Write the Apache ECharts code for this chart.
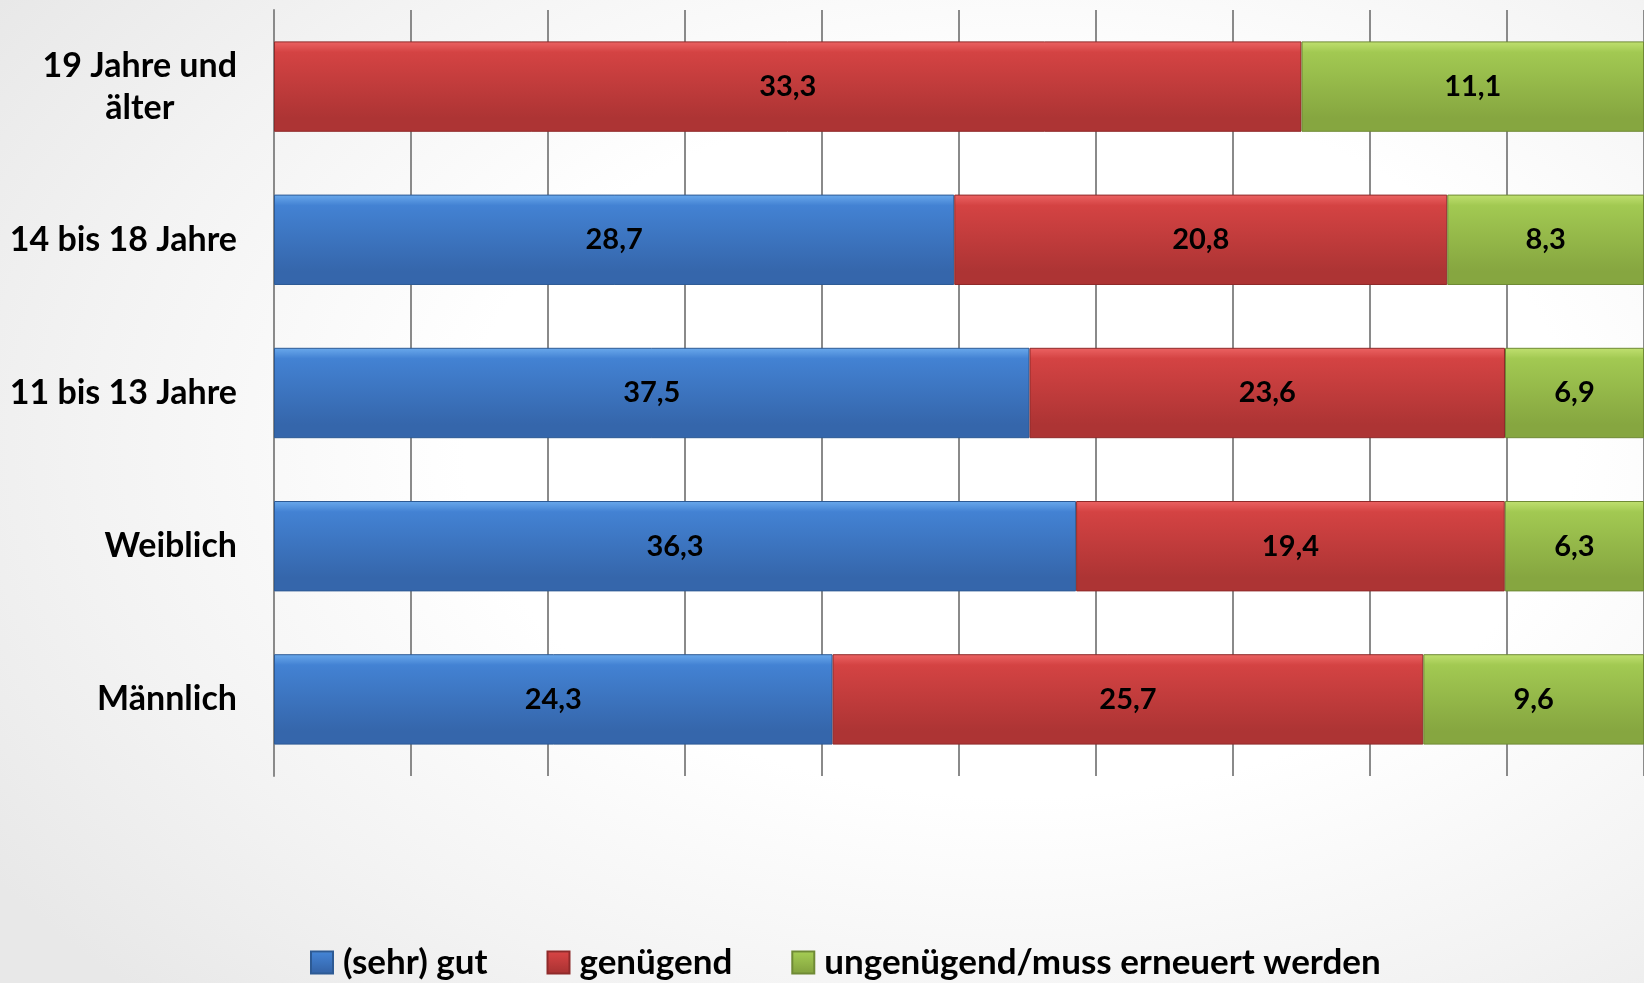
<!DOCTYPE html>
<html><head><meta charset="utf-8">
<script src="https://cdn.jsdelivr.net/npm/echarts@6/dist/echarts.min.js"></script>
<style>
html,body{margin:0;padding:0;}
#c{width:1644px;height:983px;background:radial-gradient(ellipse 75% 80% at 62% 45%, #ffffff 45%, #f3f3f3 75%, #e8e8e8 100%);}
</style></head>
<body><div id="c"></div>
<script>
const categories = ['Männlich', 'Weiblich', '11 bis 13 Jahre', '14 bis 18 Jahre', '19 Jahre und\nälter'];
const seriesNames = ['(sehr) gut', 'genügend', 'ungenügend/muss erneuert werden'];
const sehrGut = [24.3, 36.3, 37.5, 28.7, null];
const genuegend = [25.7, 19.4, 23.6, 20.8, 33.3];
const ungenuegend = [9.6, 6.3, 6.9, 8.3, 11.1];

const raw = [sehrGut, genuegend, ungenuegend];
const totals = categories.map((c, i) => raw.reduce((s, arr) => s + (arr[i] || 0), 0));
const pct = raw.map(arr => arr.map((v, i) => v == null ? null : v / totals[i] * 100));

function grad(top, mid, bot) {
  return new echarts.graphic.LinearGradient(0, 0, 0, 1, [
    {offset: 0, color: top}, {offset: 0.12, color: mid}, {offset: 0.85, color: bot}, {offset: 1, color: bot}
  ]);
}
const colors = [
  grad('#6aa9ec', '#4382d3', '#3566ab'),
  grad('#ec6363', '#d44343', '#ad3434'),
  grad('#c0e070', '#a2c952', '#86a640')
];
const borders = ['#2d5a94', '#8f2a2a', '#6f8a35'];

const FONT = 'Lato';
const chart = echarts.init(document.getElementById('c'), null, {renderer: 'canvas'});
chart.setOption({
  backgroundColor: 'transparent',
  animation: false,
  grid: {left: 274, right: -3, top: 10, bottom: 207, containLabel: false},
  xAxis: {
    type: 'value', min: 0, max: 100, interval: 10,
    axisLabel: {show: false}, axisLine: {show: false}, axisTick: {show: false},
    splitLine: {show: true, lineStyle: {color: '#8a8a8a', width: 2}}
  },
  yAxis: {
    type: 'category', data: categories,
    axisLine: {show: true, lineStyle: {color: '#8a8a8a', width: 2}},
    axisTick: {show: false},
    axisLabel: {
      margin: 37, color: '#000',
      formatter: function (v) {
        if (v.indexOf('\n') >= 0) {
          const p = v.split('\n');
          return '{a|' + p[0] + '}\n{b|' + p[1] + '}';
        }
        return '{a|' + v + '}';
      },
      rich: {
        a: {fontFamily: FONT, fontWeight: 'bold', fontSize: 34, color: '#000', lineHeight: 42},
        b: {fontFamily: FONT, fontWeight: 'bold', fontSize: 34, color: '#000', lineHeight: 42, align: 'center'}
      }
    }
  },
  legend: {
    left: 305, top: 940,
    itemWidth: 22, itemHeight: 22, itemGap: 59,
    icon: 'rect',
    textStyle: {fontFamily: FONT, fontWeight: 'bold', fontSize: 35, color: '#000', padding: [0, 0, 0, 5]},
    data: seriesNames
  },
  series: seriesNames.map((name, k) => ({
    name: name, type: 'bar', stack: 'total',
    barCategoryGap: '41%',
    data: pct[k],
    itemStyle: {color: colors[k], borderColor: borders[k], borderWidth: 1},
    label: {
      show: true, position: 'inside', color: '#000',
      fontFamily: FONT, fontWeight: 'bold', fontSize: 29,
      formatter: p => raw[k][p.dataIndex] == null ? '' : raw[k][p.dataIndex].toFixed(1).replace('.', ',')
    }
  }))
});
</script></body></html>
